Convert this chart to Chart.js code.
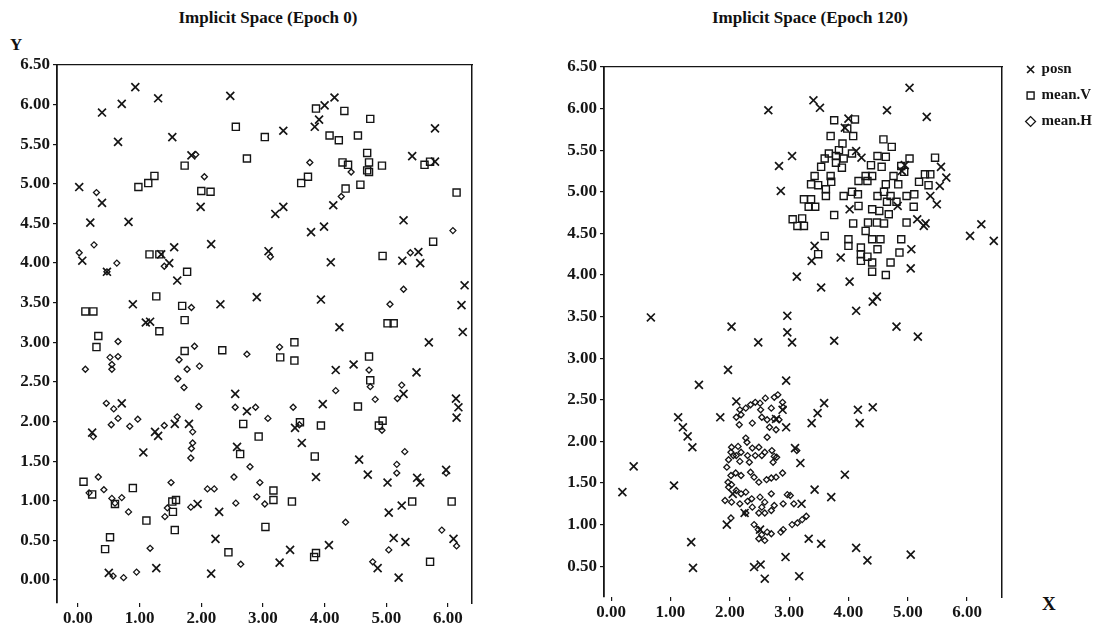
<!DOCTYPE html>
<html><head><meta charset="utf-8">
<script src="https://cdn.jsdelivr.net/npm/chart.js@4.4.1/dist/chart.umd.min.js"></script>
<style>
html,body{margin:0;padding:0;background:#fff;}
body{width:1105px;height:628px;overflow:hidden;position:relative;font-family:"Liberation Serif","Times New Roman",serif;}
canvas{position:absolute;top:0;}
.t{position:absolute;font-weight:bold;color:#111;white-space:nowrap;line-height:20px;}
</style></head><body>
<div class="t" style="left:128px;top:8px;width:280px;text-align:center;font-size:17px;">Implicit Space (Epoch 0)</div>
<div class="t" style="left:670px;top:8px;width:280px;text-align:center;font-size:17px;">Implicit Space (Epoch 120)</div>
<div class="t" style="left:10px;top:35px;font-size:17px;">Y</div>
<div class="t" style="left:1042px;top:594px;font-size:19px;">X</div>
<canvas id="c1" width="550" height="628" style="left:0;width:550px;height:628px;"></canvas>
<canvas id="c2" width="555" height="628" style="left:550px;width:555px;height:628px;"></canvas>
<script>
// ---- data ----
const xTickValues = [0,1,2,3,4,5,6];
const leftYTickValues = [0,0.5,1,1.5,2,2.5,3,3.5,4,4.5,5,5.5,6,6.5];
const rightYTickValues = [0.5,1,1.5,2,2.5,3,3.5,4,4.5,5,5.5,6,6.5];
const seriesNames = ['posn','mean.V','mean.H'];

const epoch0Posn = [[0.93,6.22],[0.71,6.01],[0.39,5.90],[1.30,6.08],[2.47,6.11],[0.65,5.53],[1.53,5.59],[3.33,5.67],[1.84,5.36],[0.02,4.96],[0.39,4.76],[1.99,4.71],[3.20,4.62],[3.33,4.71],[0.20,4.51],[0.82,4.52],[2.16,4.24],[0.07,4.03],[1.56,4.20],[1.35,4.11],[1.48,4.00],[0.47,3.89],[1.61,3.78],[3.09,4.15],[0.89,3.48],[2.31,3.48],[2.90,3.57],[1.10,3.25],[1.17,3.26],[2.55,2.35],[0.71,2.23],[0.23,1.86],[1.25,1.87],[1.30,1.82],[1.57,1.97],[1.80,1.97],[1.06,1.61],[2.74,2.13],[2.58,1.68],[3.52,1.92],[1.94,0.96],[2.29,0.86],[2.23,0.52],[3.44,0.38],[3.27,0.22],[0.50,0.09],[1.27,0.15],[2.16,0.08],[4.16,6.09],[4.00,5.99],[3.91,5.81],[3.84,5.72],[5.79,5.70],[5.42,5.35],[5.79,5.28],[4.14,4.73],[3.99,4.46],[3.78,4.39],[5.28,4.54],[5.26,4.03],[5.52,4.14],[5.55,4.00],[4.10,4.01],[6.27,3.72],[3.94,3.54],[6.22,3.47],[6.24,3.13],[4.24,3.19],[5.69,3.00],[4.18,2.65],[4.47,2.72],[5.49,2.62],[5.28,2.35],[6.13,2.29],[6.17,2.18],[6.14,2.05],[3.97,2.22],[3.63,1.73],[4.56,1.52],[4.70,1.33],[3.86,1.30],[5.02,1.23],[5.50,1.29],[5.55,1.23],[5.97,1.39],[5.04,0.85],[5.25,0.94],[6.09,0.52],[5.12,0.53],[5.31,0.48],[4.07,0.44],[4.86,0.15],[5.20,0.03]];
const epoch0MeanV = [[2.56,5.72],[3.03,5.59],[2.74,5.32],[1.73,5.23],[1.14,5.01],[1.24,5.10],[0.98,4.96],[2.00,4.91],[2.15,4.90],[1.16,4.11],[1.32,4.11],[1.77,3.89],[1.27,3.58],[1.69,3.46],[0.12,3.39],[0.25,3.39],[1.73,3.28],[1.32,3.14],[0.33,3.08],[0.30,2.94],[1.73,2.89],[2.34,2.90],[3.28,2.81],[3.51,3.00],[3.51,2.77],[2.68,1.97],[2.93,1.81],[2.63,1.59],[0.09,1.24],[0.23,1.08],[0.60,0.96],[0.89,1.16],[1.11,0.75],[0.52,0.54],[0.44,0.39],[1.59,1.01],[1.53,0.99],[1.54,0.86],[1.57,0.63],[2.44,0.35],[3.17,1.13],[3.17,1.01],[3.04,0.67],[3.47,0.99],[3.86,5.95],[4.32,5.92],[4.74,5.82],[4.08,5.61],[4.23,5.55],[4.54,5.61],[4.29,5.27],[4.38,5.24],[4.69,5.39],[4.72,5.27],[4.72,5.15],[4.69,5.17],[4.93,5.23],[3.73,5.09],[3.62,5.01],[4.34,4.94],[4.58,4.99],[5.62,5.24],[5.71,5.28],[6.14,4.89],[5.76,4.27],[4.94,4.09],[5.02,3.24],[5.12,3.24],[4.72,2.82],[4.74,2.52],[4.54,2.19],[3.60,1.99],[3.94,1.95],[4.94,2.01],[4.88,1.95],[3.84,1.56],[5.42,0.99],[6.06,0.99],[5.71,0.23],[3.86,0.34],[3.83,0.29]];
const epoch0MeanH = [[1.91,5.37],[2.05,5.09],[0.30,4.89],[0.26,4.23],[0.02,4.13],[1.40,3.96],[0.63,4.00],[0.47,3.89],[3.12,4.08],[1.84,3.44],[0.65,3.01],[0.52,2.81],[0.65,2.82],[0.55,2.72],[0.55,2.66],[0.12,2.66],[1.64,2.78],[1.89,2.95],[1.77,2.66],[1.97,2.70],[1.62,2.54],[1.72,2.43],[2.74,2.85],[3.27,2.94],[0.46,2.23],[0.58,2.16],[1.96,2.19],[0.65,2.04],[0.54,1.96],[0.84,1.94],[0.97,2.03],[0.25,1.81],[1.40,1.95],[1.61,2.06],[1.86,1.87],[1.86,1.73],[1.84,1.66],[1.83,1.54],[2.55,2.18],[2.88,2.18],[3.08,2.04],[2.79,1.43],[3.49,2.18],[0.33,1.30],[0.18,1.10],[0.42,1.14],[0.55,1.03],[0.60,0.97],[0.71,1.04],[0.82,0.86],[1.17,0.40],[1.51,1.23],[1.45,0.91],[1.41,0.80],[1.83,0.92],[2.10,1.15],[2.21,1.15],[2.53,1.30],[2.95,1.23],[2.56,0.97],[2.90,1.05],[3.03,0.96],[2.64,0.20],[0.57,0.05],[0.74,0.03],[0.95,0.10],[3.76,5.27],[4.43,5.15],[4.27,4.84],[6.08,4.41],[5.39,4.13],[5.28,3.67],[5.06,3.48],[4.72,2.65],[4.74,2.44],[4.82,2.28],[5.25,2.46],[5.18,2.29],[4.18,2.39],[3.59,1.96],[4.93,1.89],[5.30,1.62],[5.17,1.46],[5.17,1.35],[5.97,1.35],[4.34,0.73],[5.90,0.63],[6.14,0.43],[5.04,0.38],[4.78,0.23]];

const epoch120Posn = [[2.65,5.98],[2.83,5.31],[2.86,5.01],[0.67,3.49],[2.03,3.38],[2.97,3.51],[5.03,6.25],[3.41,6.10],[3.52,6.01],[4.65,5.98],[5.32,5.90],[4.00,5.88],[3.94,5.77],[3.05,5.43],[4.13,5.49],[4.22,5.41],[4.95,5.32],[4.90,5.25],[5.56,5.30],[5.65,5.17],[5.54,5.07],[4.02,4.79],[4.83,4.83],[5.38,4.95],[5.49,4.85],[5.16,4.67],[5.30,4.62],[5.27,4.59],[6.24,4.61],[6.05,4.47],[6.45,4.41],[3.43,4.35],[3.38,4.17],[3.87,4.21],[5.06,4.31],[5.05,4.08],[3.13,3.98],[3.54,3.85],[4.02,3.92],[4.48,3.74],[4.41,3.68],[4.13,3.57],[4.81,3.38],[2.48,3.19],[1.97,2.86],[1.48,2.68],[2.95,2.73],[2.11,2.48],[1.84,2.29],[1.13,2.29],[1.21,2.17],[1.29,2.06],[1.37,1.93],[0.38,1.70],[0.19,1.39],[1.06,1.47],[1.35,0.79],[1.38,0.48],[2.41,0.49],[2.52,0.52],[2.59,0.35],[2.94,0.61],[1.95,1.00],[2.89,2.38],[2.95,2.17],[2.78,2.27],[2.25,1.14],[2.05,1.37],[2.51,0.94],[2.97,3.31],[3.05,3.19],[3.76,3.21],[5.17,3.26],[3.59,2.46],[3.48,2.34],[3.38,2.22],[4.16,2.38],[4.19,2.22],[4.41,2.41],[3.10,1.92],[3.19,1.74],[3.94,1.60],[3.43,1.42],[3.71,1.33],[3.21,1.25],[3.33,0.83],[3.54,0.77],[4.13,0.72],[4.32,0.57],[5.05,0.64],[3.17,0.38]];
const epoch120MeanV = [[3.76,5.86],[4.11,5.87],[3.98,5.76],[3.70,5.67],[4.08,5.67],[4.59,5.63],[4.73,5.54],[3.90,5.58],[3.84,5.50],[3.79,5.43],[3.67,5.46],[3.92,5.40],[3.79,5.35],[3.89,5.29],[4.06,5.46],[3.60,5.40],[3.54,5.30],[3.43,5.19],[3.37,5.09],[3.49,5.08],[3.70,5.19],[3.71,5.12],[4.49,5.43],[4.63,5.42],[4.38,5.32],[4.56,5.30],[5.03,5.40],[4.89,5.31],[4.94,5.24],[4.76,5.19],[4.84,5.09],[5.46,5.41],[5.29,5.21],[5.38,5.21],[5.19,5.12],[5.35,5.08],[4.29,5.19],[4.40,5.19],[4.17,5.13],[4.32,5.13],[4.63,5.09],[4.60,5.00],[4.06,5.00],[4.16,4.97],[3.62,5.03],[3.62,4.95],[3.25,4.91],[3.37,4.91],[3.33,4.82],[3.44,4.82],[3.92,4.95],[4.17,4.83],[4.49,4.95],[4.71,4.95],[4.65,4.88],[4.81,4.88],[4.98,4.95],[5.11,4.97],[4.40,4.79],[4.52,4.77],[4.68,4.73],[5.10,4.82],[3.06,4.67],[3.22,4.68],[3.14,4.59],[3.25,4.59],[3.76,4.72],[4.08,4.62],[4.33,4.63],[4.48,4.63],[4.60,4.62],[4.98,4.63],[3.60,4.47],[4.29,4.53],[4.40,4.43],[4.54,4.43],[4.00,4.43],[4.00,4.35],[4.89,4.43],[3.49,4.25],[4.21,4.33],[4.21,4.25],[4.21,4.17],[4.32,4.22],[4.40,4.15],[4.49,4.31],[4.40,4.04],[4.86,4.27],[4.71,4.15],[4.63,4.00]];
const epoch120MeanH = [[2.17,2.38],[2.27,2.40],[2.35,2.44],[2.43,2.47],[2.51,2.46],[2.60,2.52],[2.52,2.38],[2.75,2.53],[2.81,2.56],[2.89,2.47],[2.90,2.41],[2.70,2.40],[2.11,2.29],[2.19,2.32],[2.16,2.20],[2.38,2.22],[2.54,2.29],[2.63,2.26],[2.75,2.27],[2.83,2.26],[2.67,2.17],[2.78,2.14],[2.63,2.05],[2.27,2.04],[2.29,1.99],[2.03,1.93],[2.14,1.94],[2.02,1.87],[2.06,1.83],[2.11,1.83],[2.19,1.87],[2.30,1.83],[2.38,1.92],[2.49,1.93],[2.43,1.83],[2.54,1.83],[2.59,1.87],[2.71,1.89],[2.75,1.82],[2.79,1.81],[1.98,1.78],[2.17,1.76],[2.33,1.75],[2.73,1.75],[1.95,1.69],[2.02,1.59],[2.10,1.62],[2.19,1.59],[1.97,1.51],[2.03,1.48],[2.35,1.63],[2.41,1.57],[2.49,1.51],[2.62,1.54],[2.70,1.56],[2.78,1.57],[2.89,1.62],[2.11,1.41],[2.19,1.37],[2.27,1.39],[1.98,1.45],[1.92,1.29],[2.03,1.27],[2.17,1.25],[2.30,1.28],[2.37,1.31],[2.51,1.33],[2.54,1.21],[2.59,1.27],[2.70,1.37],[2.75,1.23],[2.90,1.25],[3.02,1.35],[2.27,1.14],[2.38,1.21],[2.49,1.14],[2.59,1.14],[2.70,1.17],[2.02,1.08],[2.41,1.00],[2.48,0.94],[2.54,0.88],[2.63,0.91],[2.49,0.83],[2.59,0.81],[2.70,0.89],[2.86,0.91],[2.90,0.94],[3.13,1.89],[2.97,1.36],[3.08,1.25],[3.29,1.10],[3.22,1.06],[3.14,1.02],[3.05,1.00]];

// ---- rendering ----
const INK = '#151515';
const FONT = '"Liberation Serif", "Times New Roman", serif';
const toPts = arr => arr.map(p => ({x: p[0], y: p[1]}));

function makeDatasets(posn, meanV, meanH){
  return [
    {label: seriesNames[0], data: toPts(posn), pointStyle: 'crossRot', pointRadius: 5.6,
     borderColor: INK, backgroundColor: INK, pointBorderWidth: 1.7},
    {label: seriesNames[1], data: toPts(meanV), pointStyle: 'rect', pointRadius: 5,
     borderColor: INK, backgroundColor: 'rgba(0,0,0,0)', pointBorderWidth: 1.4},
    {label: seriesNames[2], data: toPts(meanH), pointStyle: 'rectRot', pointRadius: 3,
     borderColor: INK, backgroundColor: 'rgba(0,0,0,0)', pointBorderWidth: 1.3}
  ];
}

function makeScales(o){
  const tickFont = {family: FONT, size: 17, weight: 'bold'};
  return {
    x: {type: 'linear', position: 'bottom', min: o.xMin, max: o.xMax,
        afterBuildTicks: s => { s.ticks = xTickValues.map(v => ({value: v})); },
        afterFit: s => { s.height = o.xHeight; },
        border: {display: false},
        grid: {display: true, drawOnChartArea: false, drawTicks: true, tickLength: 4, color: INK, lineWidth: 1.2},
        ticks: {padding: 1, color: INK, font: tickFont, autoSkip: false, maxRotation: 0,
                callback: v => Number(v).toFixed(2)}},
    xTop: {type: 'linear', position: 'top', min: o.xMin, max: o.xMax,
        afterFit: s => { s.height = 0; },
        border: {display: true, color: INK, width: 1.2, dash: [7, 4]},
        grid: {display: false}, ticks: {display: false}},
    y: {type: 'linear', position: 'left', min: o.yMin, max: o.yMax,
        afterBuildTicks: s => { s.ticks = o.yTicks.map(v => ({value: v})); },
        afterFit: s => { s.width = o.yWidth; },
        border: {display: true, color: INK, width: 1.8},
        grid: {display: true, drawOnChartArea: false, drawTicks: true, tickLength: 4, color: INK, lineWidth: 1.2},
        ticks: {padding: 3, color: INK, font: tickFont, autoSkip: false,
                callback: v => Number(v).toFixed(2)}},
    yRight: {type: 'linear', position: 'right', min: o.yMin, max: o.yMax,
        afterFit: s => { s.width = o.rightGap; },
        border: {display: true, color: INK, width: 1.5},
        grid: {display: false}, ticks: {display: false}}
  };
}

new Chart(document.getElementById('c1'), {
  type: 'scatter',
  data: {datasets: makeDatasets(epoch0Posn, epoch0MeanV, epoch0MeanH)},
  options: {
    responsive: false, animation: false, events: [],
    layout: {padding: {top: 65, right: 78, left: 0, bottom: 0}},
    plugins: {legend: {display: false}, tooltip: {enabled: false}},
    scales: makeScales({xMin: -0.34, xMax: 6.39, yMin: -0.29, yMax: 6.5,
                        yTicks: leftYTickValues, yWidth: 57, xHeight: 25, rightGap: 0})
  }
});

const legendShift = {
  id: 'legendShift',
  afterLayout(chart) { if (chart.legend) { chart.legend.top = 51; } }
};

new Chart(document.getElementById('c2'), {
  type: 'scatter',
  data: {datasets: makeDatasets(epoch120Posn, epoch120MeanV, epoch120MeanH)},
  options: {
    responsive: false, animation: false, events: [],
    layout: {padding: {top: 67, right: 3, left: 0, bottom: 0}},
    plugins: {
      tooltip: {enabled: false},
      legend: {display: true, position: 'right', align: 'start', maxWidth: 88,
        labels: {usePointStyle: true, boxWidth: 7, boxHeight: 7, padding: 11, color: INK,
                 font: {family: FONT, size: 15, weight: 'bold'}}}
    },
    scales: makeScales({xMin: -0.12, xMax: 6.59, yMin: 0.13, yMax: 6.5,
                        yTicks: rightYTickValues, yWidth: 54, xHeight: 31, rightGap: 14})
  },
  plugins: [legendShift]
});
</script>
</body></html>
